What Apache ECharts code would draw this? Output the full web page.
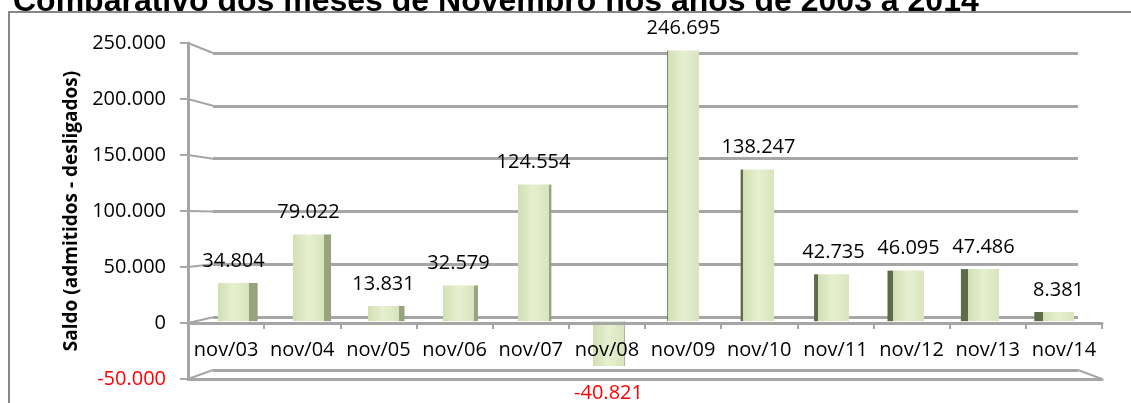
<!DOCTYPE html>
<html>
<head>
<meta charset="utf-8">
<script src="https://cdn.jsdelivr.net/npm/echarts@6/dist/echarts.min.js"></script>
<style>
  html, body { margin: 0; padding: 0; background: #fff; }
  #chart { width: 1131px; height: 403px; }
</style>
</head>
<body>
<div id="chart"></div>
<script>
var titulo = 'Comparativo dos meses de Novembro nos anos de 2003 a 2014';
var nomeEixo = 'Saldo (admitidos - desligados)';
var meses = ['nov/03', 'nov/04', 'nov/05', 'nov/06', 'nov/07', 'nov/08',
             'nov/09', 'nov/10', 'nov/11', 'nov/12', 'nov/13', 'nov/14'];
var saldo = [34804, 79022, 13831, 32579, 124554, -40821,
             246695, 138247, 42735, 46095, 47486, 8381];
var yMin = -50000, yMax = 250000, yPasso = 50000;

// três "profundidades" do gráfico 3D do Excel: fundo, frente e meio (barras)
var FUNDO = { left: 213, right: 53, top: 53, bottom: 33 };
var FRENTE = { left: 188, right: 29, top: 43, bottom: 24 };
var MEIO = { left: 196, right: 35, top: 47, bottom: 27 };
var CINZA = '#a6a6a6';
var FONTE = '"Open Sans"';
var ALTURA = 403;

function milhar(v) {
    if (v === 0) return '0';
    var s = String(Math.abs(v)).replace(/\B(?=(\d{3})+(?!\d))/g, '.');
    return (v < 0 ? '-' : '') + s;
}

function grade(g) {
    return Object.assign({ containLabel: false, outerBoundsMode: 'none' }, g);
}

function desenhaBarra(params, api) {
    var i = api.value(0), v = api.value(1);
    var base = api.coord([i, 0]);
    var topo = api.coord([i, v]);
    var cs = params.coordSys;
    var meio = cs.x + cs.width / 2;
    var cx = base[0];
    var w = 31;
    var lado = Math.abs(cx - meio) * 0.021;
    var y = Math.min(base[1], topo[1]);
    var h = Math.abs(base[1] - topo[1]);
    var xLado = cx < meio ? cx + w / 2 : cx - w / 2 - lado;
    var frente = {
        type: 'rect',
        shape: { x: cx - w / 2, y: y, width: w, height: h },
        style: {
            fill: new echarts.graphic.LinearGradient(0, 0, 1, 0, [
                { offset: 0, color: '#d2dfb3' },
                { offset: 0.5, color: '#e6f0cf' },
                { offset: 1, color: '#d8e4bd' }
            ])
        }
    };
    var face = {
        type: 'rect',
        shape: { x: xLado, y: y, width: lado, height: h },
        style: { fill: cx < meio ? '#97a37c' : '#5f6a48' }
    };
    var rotulo = {
        type: 'text',
        style: {
            text: milhar(v),
            x: cx,
            y: v >= 0 ? topo[1] - 22 : topo[1] + 27,
            align: 'center',
            verticalAlign: 'middle',
            font: '20px ' + FONTE,
            fill: v >= 0 ? '#000' : '#ff0000'
        }
    };
    return { type: 'group', children: [face, frente, rotulo] };
}

var chart = echarts.init(document.getElementById('chart'));

// o eixo de categorias da frente fica na linha do zero
var alturaFrente = ALTURA - FRENTE.top - FRENTE.bottom;
var deslocZero = -alturaFrente * (0 - yMin) / (yMax - yMin);

var option = {
    animation: false,
    backgroundColor: '#fff',
    grid: [grade(FUNDO), grade(FRENTE), grade(MEIO)],
    xAxis: [
        { type: 'category', data: meses, gridIndex: 0, show: false },
        {
            type: 'category', data: meses, gridIndex: 1, z: 3,
            position: 'bottom', offset: deslocZero,
            axisLine: { onZero: false, lineStyle: { color: CINZA, width: 3 } },
            axisTick: { show: true, length: 6, lineStyle: { color: CINZA, width: 2 } },
            axisLabel: { color: '#000', fontSize: 20, fontFamily: FONTE, margin: 17, interval: 0 }
        },
        {
            type: 'category', data: meses, gridIndex: 1, position: 'bottom',
            axisLine: { onZero: false, lineStyle: { color: CINZA, width: 3 } },
            axisTick: { show: false }, axisLabel: { show: false }
        },
        { type: 'category', data: meses, gridIndex: 2, show: false }
    ],
    yAxis: [
        {
            type: 'value', gridIndex: 0, min: yMin, max: yMax, interval: yPasso,
            axisLine: { show: false }, axisTick: { show: false }, axisLabel: { show: false },
            splitLine: { show: true, lineStyle: { color: CINZA, width: 3 } }
        },
        {
            type: 'value', gridIndex: 1, min: yMin, max: yMax, interval: yPasso,
            name: nomeEixo, nameLocation: 'middle', nameGap: 106, nameRotate: 90,
            nameTextStyle: { color: '#000', fontSize: 19, fontWeight: 'bold', fontFamily: FONTE },
            axisLine: { show: true, onZero: false, lineStyle: { color: CINZA, width: 3 } },
            axisTick: { show: true, inside: false, length: 8, lineStyle: { color: CINZA, width: 2 } },
            splitLine: { show: false },
            axisLabel: {
                margin: 22, color: '#000', fontSize: 20, fontFamily: FONTE,
                formatter: function (v) {
                    return v < 0 ? '{neg|' + milhar(v) + '}' : milhar(v);
                },
                rich: { neg: { color: '#ff0000', fontSize: 20, fontFamily: FONTE } }
            }
        },
        { type: 'value', gridIndex: 2, min: yMin, max: yMax, interval: yPasso, show: false }
    ],
    series: [{
        name: 'Saldo',
        type: 'custom',
        xAxisIndex: 3,
        yAxisIndex: 2,
        clip: false,
        z: 2,
        renderItem: desenhaBarra,
        data: saldo.map(function (v, i) { return [i, v]; })
    }]
};
chart.setOption(option);

// moldura, título cortado e as diagonais de perspectiva ligando frente e fundo
var W = chart.getWidth();
var graficos = [
    {
        type: 'text', x: 13, y: -14, z: 0,
        style: { text: titulo, font: 'bold 32px "Liberation Sans"', fill: '#000' }
    },
    {
        type: 'rect', z: 1,
        shape: { x: 9, y: 12, width: W + 20, height: 8 },
        style: { fill: '#fff' }
    },
    {
        type: 'rect', z: 1,
        shape: { x: 9, y: 12, width: W + 20, height: 500 },
        style: { fill: null, stroke: '#868686', lineWidth: 2 }
    }
];
for (var v = yMin; v <= yMax; v += yPasso) {
    graficos.push({
        type: 'line', z: 1,
        shape: {
            x1: FRENTE.left, y1: chart.convertToPixel({ yAxisIndex: 1 }, v),
            x2: FUNDO.left, y2: chart.convertToPixel({ yAxisIndex: 0 }, v)
        },
        style: { stroke: CINZA, lineWidth: 2 }
    });
}
graficos.push({
    type: 'line', z: 1,
    shape: {
        x1: W - FRENTE.right, y1: chart.convertToPixel({ yAxisIndex: 1 }, yMin),
        x2: W - FUNDO.right, y2: chart.convertToPixel({ yAxisIndex: 0 }, yMin)
    },
    style: { stroke: CINZA, lineWidth: 2 }
});
chart.setOption({ graphic: graficos });
</script>
</body>
</html>
